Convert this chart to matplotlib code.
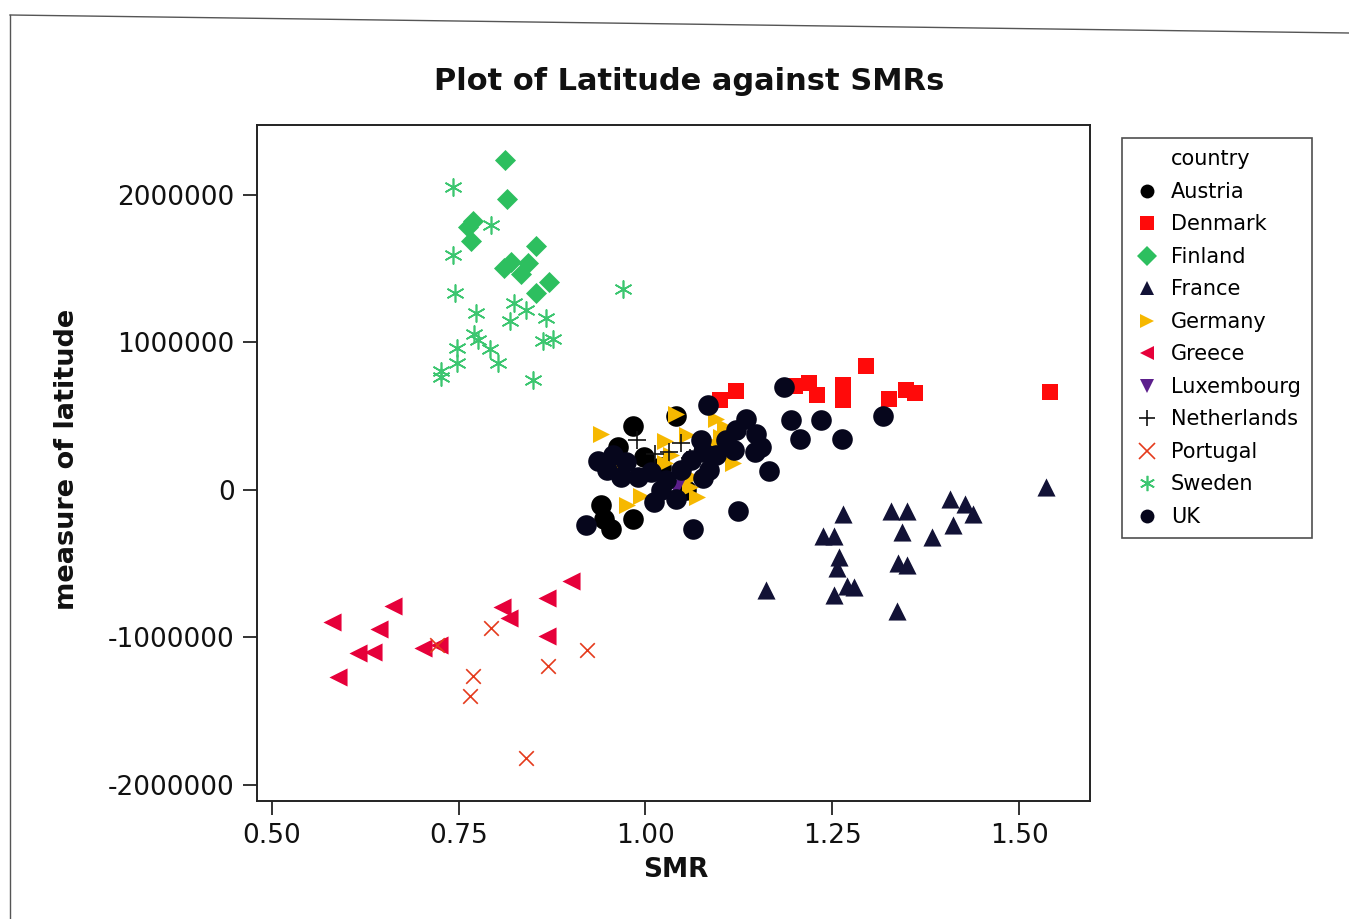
import matplotlib
matplotlib.use("Agg")
import matplotlib.pyplot as plt
from matplotlib.lines import Line2D

# ---- data (SMR, latitude measure in millions) ----
austria_x = [0.940, 0.944, 0.954, 0.983, 0.963, 0.998, 1.021, 0.983, 1.041, 1.054]
austria_y = [-0.101, -0.196, -0.264, -0.196, 0.291, 0.223, 0.155, 0.432, 0.500, 0.000]

uk_x = [0.920, 1.011, 1.041, 1.064, 1.124, 0.936, 0.948, 0.967, 0.990, 0.956,
        0.974, 1.007, 1.027, 1.048, 1.074, 1.077, 1.085, 1.077, 1.061, 1.084,
        1.121, 1.135, 1.148, 1.147, 1.118, 1.155, 1.165, 1.108, 1.094, 1.021,
        1.185, 1.195, 1.207, 1.235, 1.263, 1.318]
uk_y = [-0.236, -0.081, -0.061, -0.264, -0.142, 0.196, 0.135, 0.088, 0.088, 0.236,
        0.189, 0.122, 0.068, 0.135, 0.338, 0.257, 0.135, 0.081, 0.203, 0.574,
        0.405, 0.480, 0.378, 0.257, 0.270, 0.291, 0.128, 0.338, 0.236, 0.000,
        0.696, 0.473, 0.345, 0.473, 0.345, 0.500]

denmark_x = [1.100, 1.121, 1.200, 1.219, 1.230, 1.264, 1.264, 1.295, 1.326, 1.349, 1.361, 1.541]
denmark_y = [0.608, 0.669, 0.703, 0.723, 0.642, 0.709, 0.608, 0.838, 0.615, 0.676, 0.655, 0.662]

finland_x = [0.812, 0.815, 0.769, 0.762, 0.766, 0.853, 0.820, 0.811, 0.843, 0.833, 0.871, 0.853]
finland_y = [2.236, 1.973, 1.824, 1.784, 1.689, 1.649, 1.541, 1.500, 1.534, 1.459, 1.405, 1.331]

france_x = [1.264, 1.238, 1.252, 1.259, 1.256, 1.161, 1.252, 1.270, 1.279, 1.329, 1.350,
            1.343, 1.338, 1.350, 1.337, 1.384, 1.408, 1.428, 1.438, 1.412, 1.536]
france_y = [-0.162, -0.311, -0.311, -0.453, -0.527, -0.682, -0.716, -0.655, -0.662, -0.142, -0.142,
            -0.284, -0.493, -0.507, -0.824, -0.318, -0.061, -0.095, -0.162, -0.236, 0.020]

germany_x = [0.940, 1.041, 1.094, 1.106, 1.101, 1.026, 1.056, 0.970, 1.026, 1.117,
             1.092, 1.062, 1.060, 1.069, 0.994, 0.975, 1.034]
germany_y = [0.378, 0.514, 0.480, 0.426, 0.358, 0.331, 0.372, 0.182, 0.182, 0.182,
             0.311, 0.088, 0.020, -0.047, -0.041, -0.101, 0.236]

greece_x = [0.580, 0.588, 0.615, 0.635, 0.643, 0.662, 0.702, 0.724, 0.808, 0.817, 0.868, 0.900, 0.868]
greece_y = [-0.899, -1.270, -1.108, -1.101, -0.946, -0.784, -1.074, -1.054, -0.791, -0.872, -0.730, -0.615, -0.993]

luxembourg_x = [1.041]
luxembourg_y = [0.010]

netherlands_x = [0.989, 1.048, 1.066, 1.081, 1.060, 1.013, 1.031]
netherlands_y = [0.338, 0.318, 0.257, 0.291, 0.216, 0.243, 0.257]

portugal_x = [0.721, 0.793, 0.769, 0.765, 0.869, 0.922, 0.840]
portugal_y = [-1.054, -0.939, -1.264, -1.399, -1.196, -1.088, -1.818]

sweden_x = [0.742, 0.793, 0.742, 0.745, 0.970, 0.773, 0.824, 0.840, 0.819, 0.867, 0.770,
            0.776, 0.863, 0.876, 0.748, 0.792, 0.803, 0.748, 0.726, 0.726, 0.849]
sweden_y = [2.054, 1.797, 1.588, 1.331, 1.358, 1.196, 1.264, 1.216, 1.142, 1.162, 1.054,
            1.014, 1.007, 1.020, 0.959, 0.953, 0.858, 0.858, 0.804, 0.764, 0.743]

x_ticks = [0.50, 0.75, 1.00, 1.25, 1.50]
y_ticks = [-2000000, -1000000, 0, 1000000, 2000000]

# name, x, y, marker, colour, size
series = [
    ("Austria", austria_x, austria_y, "o", "#000000", 220),
    ("Denmark", denmark_x, denmark_y, "s", "#ff0a0a", 130),
    ("Finland", finland_x, finland_y, "D", "#2dbf5f", 115),
    ("France", france_x, france_y, "^", "#121236", 170),
    ("Germany", germany_x, germany_y, ">", "#f6b800", 150),
    ("Greece", greece_x, greece_y, "<", "#e6003a", 170),
    ("Luxembourg", luxembourg_x, luxembourg_y, "v", "#5c1f8c", 150),
    ("Netherlands", netherlands_x, netherlands_y, "+", "#111111", 150),
    ("Portugal", portugal_x, portugal_y, "x", "#e53a1c", 110),
    ("Sweden", sweden_x, sweden_y, (6, 2, 0), "#3cc670", 150),
    ("UK", uk_x, uk_y, "o", "#06061c", 220),
]

fig = plt.figure(figsize=(13.49, 9.19), dpi=100, facecolor="white")
ax = fig.add_axes([0.1905, 0.1285, 0.6175, 0.736])

handles = []
for name, xs, ys, mk, col, sz in series:
    ys_full = [v * 1e6 for v in ys]
    lw = 1.2 if mk in ("+", "x", (6, 2, 0)) else 0
    ax.scatter(xs, ys_full, marker=mk, s=sz, color=col, linewidths=lw, zorder=3)
    handles.append(Line2D([], [], linestyle="none", marker=mk, color=col,
                          markersize=10 if mk not in ("+", "x", (6, 2, 0)) else 11,
                          markeredgewidth=1.2 if lw else 0.0, label=name))

ax.set_xlim(0.480, 1.595)
ax.set_ylim(-2.108e6, 2.475e6)
ax.set_xticks(x_ticks)
ax.set_xticklabels([f"{t:.2f}" for t in x_ticks])
ax.set_yticks(y_ticks)
ax.set_yticklabels([str(t) for t in y_ticks])
ax.tick_params(axis="both", direction="out", length=10, width=1.2, labelsize=19,
               colors="#111111", pad=6)
for sp in ax.spines.values():
    sp.set_linewidth(1.4)
    sp.set_color("#222222")

fig.text(0.511, 0.911, "Plot of Latitude against SMRs", ha="center", va="center",
         fontsize=22, fontweight="bold", color="#111111")
fig.text(0.501, 0.053, "SMR", ha="center", va="center", fontsize=19,
         fontweight="bold", color="#111111")
fig.text(0.050, 0.500, "measure of latitude", ha="center", va="center", rotation=90,
         fontsize=19.5, fontweight="bold", color="#111111")

# legend: first row is the "country" heading, aligned with the labels
title_handle = Line2D([], [], linestyle="none", marker=None, label="country")
leg = fig.legend(handles=[title_handle] + handles, loc="upper left",
                 bbox_to_anchor=(1122 / 1349, 1 - 138 / 919), borderaxespad=0,
                 frameon=True, fontsize=15, labelspacing=0.6, handletextpad=0.5,
                 handlelength=1.3, borderpad=0.55, fancybox=False)
leg.get_frame().set_edgecolor("#222222")
leg.get_frame().set_linewidth(1.2)

# scan border of the graph window
fig.add_artist(Line2D([10 / 1349, 1.0], [1 - 15 / 919, 1 - 33 / 919],
                      transform=fig.transFigure, color="#555555", linewidth=1.0))
fig.add_artist(Line2D([10 / 1349, 10 / 1349], [1 - 15 / 919, 0.0],
                      transform=fig.transFigure, color="#555555", linewidth=1.0))

fig.savefig("out.png", dpi=100, facecolor="white")
